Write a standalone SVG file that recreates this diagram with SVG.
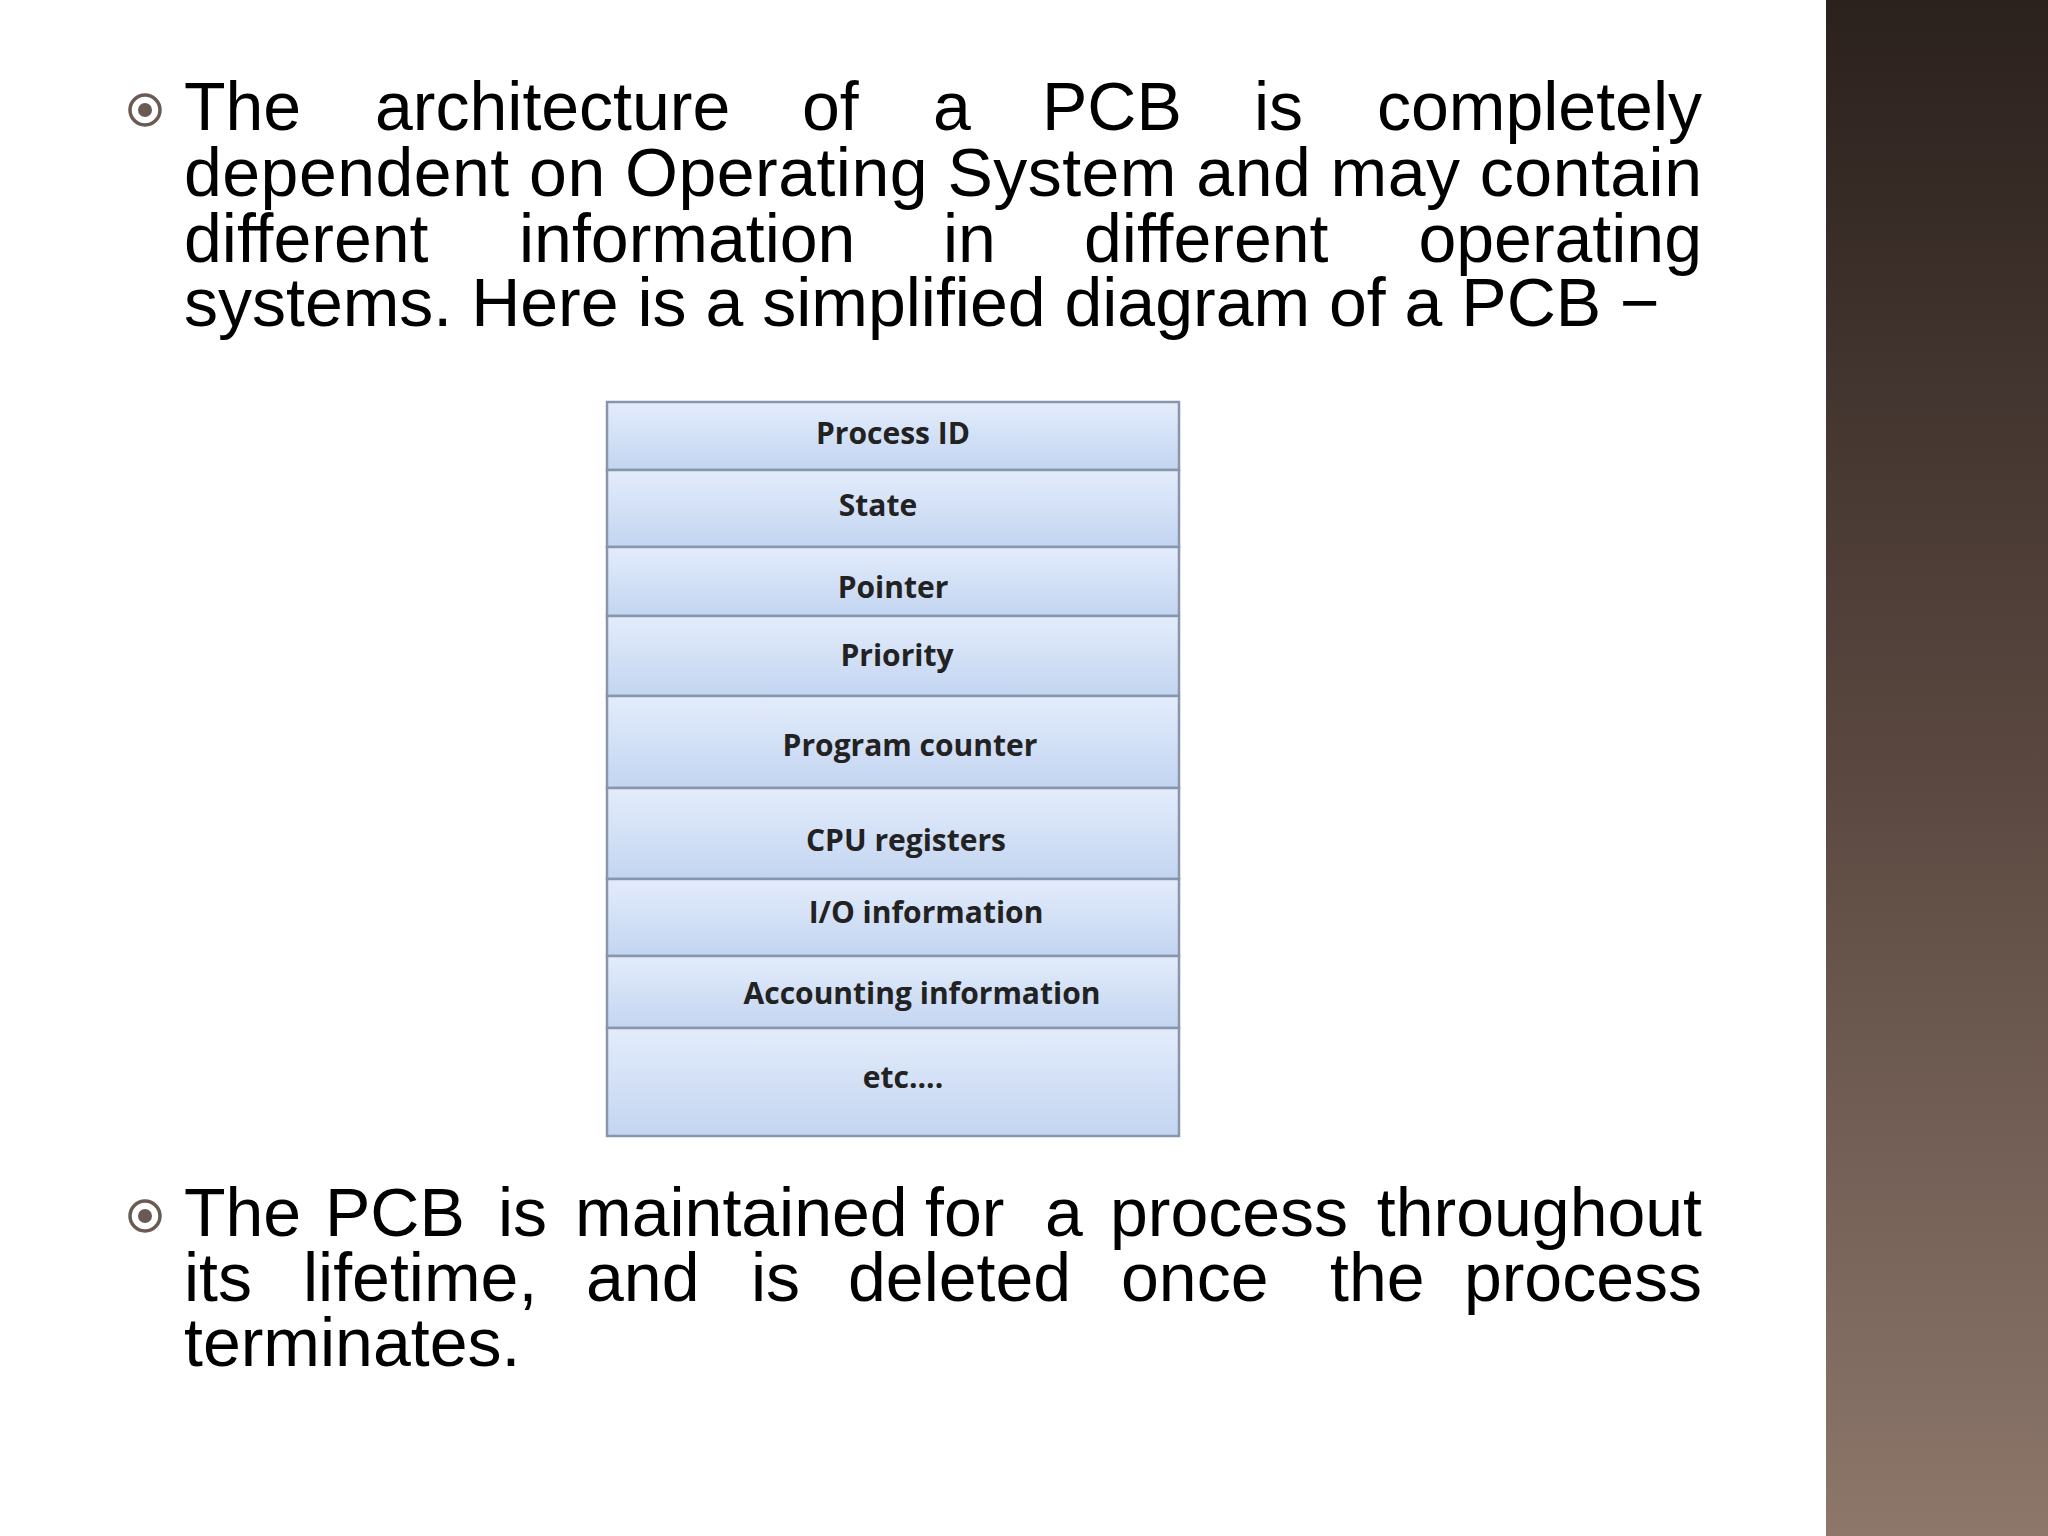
<svg xmlns="http://www.w3.org/2000/svg" width="2048" height="1536" viewBox="0 0 2048 1536">
<defs>
<linearGradient id="band" x1="0" y1="0" x2="0" y2="1"><stop offset="0" stop-color="#2b211d"/><stop offset="0.5" stop-color="#5a4840"/><stop offset="1" stop-color="#8d776b"/></linearGradient>
<linearGradient id="cell" x1="0" y1="0" x2="0" y2="1"><stop offset="0" stop-color="#e3ecfb"/><stop offset="1" stop-color="#c3d5f1"/></linearGradient>
<style>
.p{font-family:"Liberation Sans",Arial,sans-serif;font-size:68px;fill:#000}
.e{text-anchor:end}
.c{fill:url(#cell);stroke:#8796aa;stroke-width:2.5}
.t{font-family:"Open Sans",sans-serif;font-weight:700;font-size:30px;fill:#222;text-anchor:middle}
</style>
</defs>
<rect width="2048" height="1536" fill="#fff"/>
<rect x="1826" y="0" width="222" height="1536" fill="url(#band)"/>
<g id="bullets" fill="none" stroke="#6b5a52">
<circle cx="145" cy="110" r="15" stroke-width="3.5"/><circle cx="145" cy="110" r="7" fill="#6b5a52" stroke="none"/>
<circle cx="145" cy="1216" r="15" stroke-width="3.5"/><circle cx="145" cy="1216" r="7" fill="#6b5a52" stroke="none"/>
</g>
<g id="para1">
<text class="p" x="184" y="130">The</text><text class="p" x="375" y="130">architecture</text><text class="p" x="802" y="130">of</text><text class="p" x="933" y="130">a</text><text class="p" x="1042" y="130">PCB</text><text class="p" x="1254" y="130">is</text><text class="p e" x="1702" y="130">completely</text>
<text class="p" x="184" y="196" textLength="1518" lengthAdjust="spacing">dependent on Operating System and may contain</text>
<text class="p" x="184" y="262">different</text><text class="p" x="519" y="262">information</text><text class="p" x="943" y="262">in</text><text class="p" x="1084" y="262">different</text><text class="p e" x="1702" y="262">operating</text>
<text class="p" x="184" y="326">systems. Here is a simplified diagram of a PCB −</text>
</g>
<g id="pcb">
<rect class="c" x="607" y="402" width="572" height="68"/>
<rect class="c" x="607" y="470" width="572" height="77"/>
<rect class="c" x="607" y="547" width="572" height="69"/>
<rect class="c" x="607" y="616" width="572" height="80"/>
<rect class="c" x="607" y="696" width="572" height="92"/>
<rect class="c" x="607" y="788" width="572" height="91"/>
<rect class="c" x="607" y="879" width="572" height="77"/>
<rect class="c" x="607" y="956" width="572" height="72"/>
<rect class="c" x="607" y="1028" width="572" height="108"/>
<text class="t" x="893" y="444">Process ID</text>
<text class="t" x="878" y="516">State</text>
<text class="t" x="893" y="598">Pointer</text>
<text class="t" x="897" y="666">Priority</text>
<text class="t" x="910" y="756">Program counter</text>
<text class="t" x="906" y="851">CPU registers</text>
<text class="t" x="926" y="923">I/O information</text>
<text class="t" x="922" y="1004">Accounting information</text>
<text class="t" x="903" y="1088">etc....</text>
</g>
<g id="para2">
<text class="p" x="184" y="1236">The</text><text class="p" x="325" y="1236">PCB</text><text class="p" x="498" y="1236">is</text><text class="p" x="575" y="1236">maintained</text><text class="p" x="925" y="1236">for</text><text class="p" x="1045" y="1236">a</text><text class="p" x="1110" y="1236">process</text><text class="p e" x="1702" y="1236">throughout</text>
<text class="p" x="184" y="1301">its</text><text class="p" x="303" y="1301">lifetime,</text><text class="p" x="586" y="1301">and</text><text class="p" x="751" y="1301">is</text><text class="p" x="848" y="1301">deleted</text><text class="p" x="1121" y="1301">once</text><text class="p" x="1330" y="1301">the</text><text class="p e" x="1702" y="1301">process</text>
<text class="p" x="184" y="1366">terminates.</text>
</g>
</svg>
